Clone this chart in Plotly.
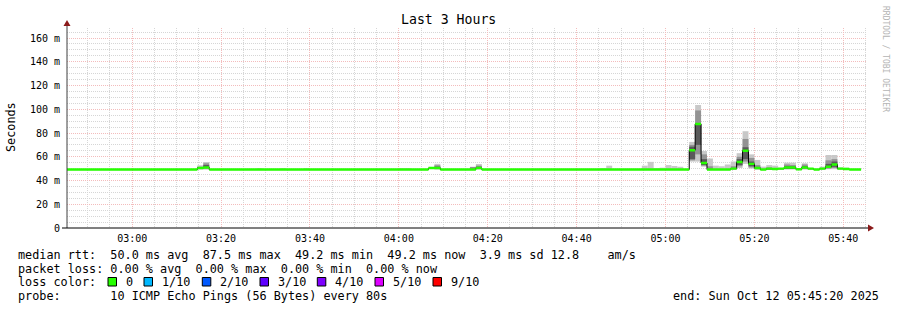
import pandas as pd
import plotly.graph_objects as go

# ---------------- data ----------------
start_time = "2025-10-12 02:45:20"
end_time = "2025-10-12 05:45:20"
step_seconds = 80

# median rtt (ms) per 80 s step, 134 steps
median_ms = [
    49.2, 49.2, 49.2, 49.2, 49.2, 49.2, 49.2, 49.2, 49.2, 49.2,
    49.2, 49.2, 49.2, 49.2, 49.2, 49.2, 49.2, 49.2, 49.2, 49.2,
    49.2, 49.2, 50.5, 51.0, 49.2, 49.2, 49.2, 49.2, 49.2, 49.2,
    49.2, 49.2, 49.2, 49.2, 49.2, 49.2, 49.2, 49.2, 49.2, 49.2,
    49.2, 49.2, 49.2, 49.2, 49.2, 49.2, 49.2, 49.2, 49.2, 49.2,
    49.2, 49.2, 49.2, 49.2, 49.2, 49.2, 49.2, 49.2, 49.2, 49.2,
    49.2, 50.5, 50.5, 49.2, 49.2, 49.2, 49.2, 49.2, 49.2, 50.5,
    49.2, 49.2, 49.2, 49.2, 49.2, 49.2, 49.2, 49.2, 49.2, 49.2,
    49.2, 49.2, 49.2, 49.2, 49.2, 49.2, 49.2, 49.2, 49.2, 49.2,
    49.2, 49.2, 49.2, 49.2, 49.2, 49.2, 49.2, 49.2, 49.2, 49.2,
    49.2, 49.2, 49.2, 49.2, 49.2, 65.5, 87.5, 54.7, 49.2, 49.2,
    49.2, 49.2, 50.0, 55.5, 65.0, 54.0, 50.5, 49.2, 50.0, 49.6,
    50.0, 51.0, 51.0, 49.5, 51.0, 50.0, 49.2, 50.0, 51.6, 53.5,
    50.0, 49.6, 49.2, 49.2,
]

# smoke (ping spread) for the steps that show any
smoke_step = [22, 23, 32, 36, 40, 56, 57, 62, 68, 69, 90, 91, 97, 98, 99, 100,
              101, 102, 103, 105, 106, 107, 108, 109, 110, 111, 112, 113, 114,
              115, 116, 117, 118, 119, 120, 121, 122, 123, 124, 125, 127, 128,
              129, 130, 131]
light_lo = [49.2, 49.2, 49.2, 49.2, 49.2, 49.2, 49.2, 49.2, 49.2, 49.2, 49.2, 49.2,
            49.2, 49.2, 49.2, 49.2, 49.2, 49.2, 49.2, 55.9, 55.9, 51.6, 49.2, 49.2,
            49.2, 49.2, 49.2, 50.5, 54.0, 50.0, 49.2, 49.2, 49.2, 49.2, 49.2, 49.2,
            49.2, 49.2, 49.2, 49.2, 49.2, 49.5, 49.5, 49.2, 49.2]
light_hi = [52.8, 55.6, 50.5, 50.5, 50.5, 50.5, 50.5, 54.0, 51.6, 53.9, 50.5, 52.5,
            52.5, 55.7, 50.3, 50.8, 53.0, 52.2, 51.6, 72.5, 103.6, 64.8, 58.5, 52.5,
            52.0, 53.5, 56.0, 63.0, 81.5, 62.0, 57.3, 51.7, 53.0, 52.5, 50.5, 55.0,
            55.0, 50.5, 54.5, 50.5, 51.7, 61.5, 61.5, 51.0, 50.8]
mid_lo = [49.8, 50.0, None, None, None, None, None, 50.0, 49.8, 50.0, None, None,
          None, None, None, None, None, None, None, 57.0, 62.0, 52.5, 49.4, None,
          None, None, 49.5, 52.0, 56.0, 51.0, 49.5, None, 49.5, None, None, 50.0,
          50.0, None, 50.0, None, None, 50.0, 50.5, None, None]
mid_hi = [51.5, 54.5, None, None, None, None, None, 52.8, 51.0, 52.5, None, None,
          None, None, None, None, None, None, None, 70.0, 99.0, 62.0, 52.0, None,
          None, None, 52.0, 60.0, 75.0, 59.0, 53.0, None, 51.0, None, None, 53.5,
          53.0, None, 53.5, None, None, 57.0, 58.0, None, None]
dark_lo = [50.2, 51.0, None, None, None, None, None, 50.5, None, 50.3, None, None,
           None, None, None, None, None, None, None, 58.0, 70.0, 53.0, None, None,
           None, None, None, 53.0, 58.0, 52.0, 50.0, None, None, None, None, 50.5,
           50.3, None, 50.3, None, None, 50.5, 51.5, None, None]
dark_hi = [51.0, 53.0, None, None, None, None, None, 51.6, None, 51.5, None, None,
           None, None, None, None, None, None, None, 68.5, 88.0, 58.0, None, None,
           None, None, None, 58.0, 68.0, 56.0, 51.5, None, None, None, None, 52.0,
           51.8, None, 52.0, None, None, 54.0, 56.0, None, None]

y_tick_values = [0, 20, 40, 60, 80, 100, 120, 140, 160]
y_tick_labels = ["0", "20 m", "40 m", "60 m", "80 m", "100 m", "120 m", "140 m", "160 m"]
y_max = 168.42

loss_labels = ["0", "1/10", "2/10", "3/10", "4/10", "5/10", "9/10"]
loss_colors = ["#26ff00", "#00b8ff", "#0059ff", "#5e00ff", "#7e00ff", "#dd00ff", "#ff0000"]

stats_line = "median rtt:  50.0 ms avg  87.5 ms max  49.2 ms min  49.2 ms now  3.9 ms sd 12.8    am/s"
loss_line = "packet loss: 0.00 % avg  0.00 % max  0.00 % min  0.00 % now"
probe_line = "probe:       10 ICMP Echo Pings (56 Bytes) every 80s"
end_line = "end: Sun Oct 12 05:45:20 2025"

# ---------------- derived ----------------
t0 = pd.Timestamp(start_time)
step = pd.Timedelta(seconds=step_seconds)
step_times = [t0 + i * step for i in range(len(median_ms))]
smoke_times = [step_times[k] for k in smoke_step]
width_ms = step_seconds * 1000


def span(lo, hi):
    base, h = [], []
    for a, b in zip(lo, hi):
        if a is None or b is None:
            base.append(None)
            h.append(None)
        else:
            base.append(a)
            h.append(b - a)
    return base, h


FONT = "DejaVu Sans Mono"
L, T, PW, PH = 67, 28, 800, 200
W, H = 897, 310


def px(x):
    return (x - L) / PW


def py(y):
    return (T + PH - y) / PH


fig = go.Figure()
for lo, hi, col in [(light_lo, light_hi, "#c8c8c8"),
                    (mid_lo, mid_hi, "#939393"),
                    (dark_lo, dark_hi, "#5a5a5a")]:
    b, h = span(lo, hi)
    fig.add_trace(go.Bar(x=smoke_times, y=h, base=b, width=width_ms, offset=0,
                         marker=dict(color=col, line=dict(width=0)),
                         showlegend=False, hoverinfo="skip"))

# black median line
line_x = step_times + [step_times[-1] + step]
line_y = median_ms + [median_ms[-1]]
fig.add_trace(go.Scatter(x=line_x, y=line_y, mode="lines",
                         line=dict(color="#000000", width=1, shape="hv"),
                         showlegend=False, hoverinfo="skip"))
# loss-colored band around the median (filled between two step lines)
band = 2.1
fig.add_trace(go.Scatter(x=line_x, y=[m - band / 2 for m in line_y], mode="lines",
                         line=dict(width=0, shape="hv", color=loss_colors[0]),
                         showlegend=False, hoverinfo="skip"))
fig.add_trace(go.Scatter(x=line_x, y=[m + band / 2 for m in line_y], mode="lines",
                         line=dict(width=0, shape="hv", color=loss_colors[0]),
                         fill="tonexty", fillcolor=loss_colors[0],
                         showlegend=False, hoverinfo="skip"))

shapes = []
# axes
shapes.append(dict(type="line", xref="paper", yref="paper", x0=px(67), x1=px(67),
                   y0=py(228), y1=py(24), line=dict(color="#404040", width=1)))
shapes.append(dict(type="line", xref="paper", yref="paper", x0=px(62), x1=px(869),
                   y0=py(228), y1=py(228), line=dict(color="#000000", width=1)))
# arrows
shapes.append(dict(type="path", xref="paper", yref="paper",
                   path=f"M {px(63.5)} {py(26)} L {px(70.5)} {py(26)} L {px(67)} {py(20)} Z",
                   fillcolor="#8b1a1a", line=dict(width=0)))
shapes.append(dict(type="path", xref="paper", yref="paper",
                   path=f"M {px(868)} {py(224.5)} L {px(868)} {py(231.5)} L {px(874)} {py(228)} Z",
                   fillcolor="#8b1a1a", line=dict(width=0)))

annotations = []
NB = "\u00a0"


def txt(s, x, y, size=11.8, anchor="left", color="#000000", angle=0):
    annotations.append(dict(text=s.replace(" ", NB), xref="paper", yref="paper",
                            x=px(x), y=py(y), xanchor=anchor, yanchor="middle",
                            showarrow=False, textangle=angle,
                            font=dict(family=FONT, size=size, color=color)))


txt("Last 3 Hours", 448, 19, size=13.2, anchor="center")
txt("Seconds", 11, 127, size=11.8, anchor="center", angle=-90)
txt("RRDTOOL / TOBI OETIKER", 886, 59, size=8, anchor="center", color="#b4b4b4", angle=90)
txt(stats_line, 16, 254.7)
txt(loss_line, 16, 268.5)
txt("loss color:", 16, 282.3)
txt(probe_line, 16, 296)
txt(end_line, 881, 296, anchor="right")

label_x = [124, 160, 218.3, 276, 333.3, 391, 449]
for lab, col, lx in zip(loss_labels, loss_colors, label_x):
    txt(lab, lx, 282.3)
    shapes.append(dict(type="rect", xref="paper", yref="paper",
                       x0=px(lx - 16), x1=px(lx - 7.5), y0=py(286), y1=py(277.5),
                       fillcolor=col, line=dict(color="#000000", width=1)))

fig.update_layout(
    width=W, height=H, autosize=False,
    margin=dict(l=L, r=W - L - PW, t=T, b=H - T - PH, pad=0),
    paper_bgcolor="#ffffff", plot_bgcolor="#ffffff",
    barmode="overlay", showlegend=False,
    font=dict(family=FONT, size=10, color="#000000"),
    shapes=shapes, annotations=annotations,
    xaxis=dict(
        type="date", range=[start_time, end_time],
        tick0="2025-10-12 03:00:00", dtick=20 * 60 * 1000, tickformat="%H:%M",
        showgrid=True, gridcolor="#f3bcbc", griddash="1px,1px", gridwidth=1,
        minor=dict(dtick=5 * 60 * 1000, tick0="2025-10-12 03:00:00", showgrid=True,
                   gridcolor="#d6d6d6", griddash="1px,1px", gridwidth=1),
        ticks="", showline=False, zeroline=False,
        tickfont=dict(family=FONT, size=10), ticklabelstandoff=3,
    ),
    yaxis=dict(
        range=[0, y_max], tickvals=y_tick_values, ticktext=y_tick_labels,
        showgrid=True, gridcolor="#f3bcbc", griddash="1px,1px", gridwidth=1,
        minor=dict(dtick=5, tick0=0, showgrid=True,
                   gridcolor="#d6d6d6", griddash="1px,1px", gridwidth=1),
        ticks="", showline=False, zeroline=False,
        tickfont=dict(family=FONT, size=10), ticklabelstandoff=6,
    ),
)

fig.write_html("out.html")
